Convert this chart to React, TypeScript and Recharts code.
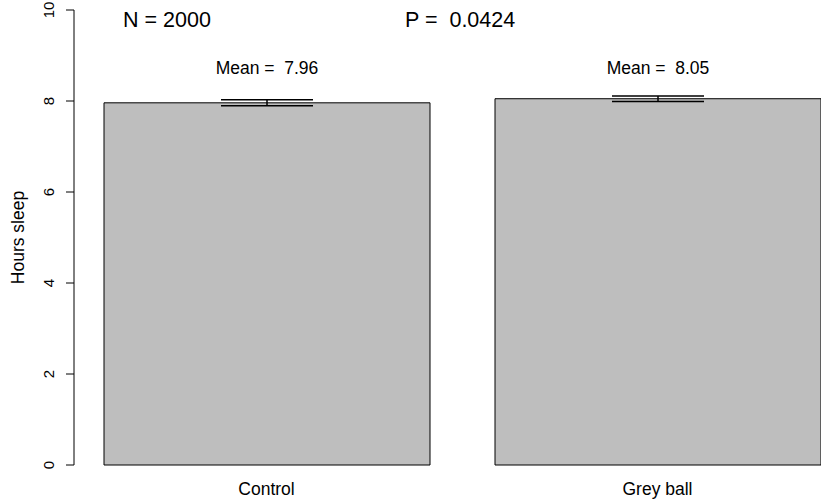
import React from "react";
import { BarChart, Bar, XAxis, YAxis, ErrorBar, LabelList } from "recharts";

const groups = ["Control", "Grey ball"];
const means = [7.96, 8.05];
const errs = [0.065, 0.062];
const yTicks = [0, 2, 4, 6, 8, 10];
const meanLabelAt = 8.73; // y (data units) of the "Mean =" texts
const nText = "N = 2000";
const pText = "P =  0.0424";

const data = groups.map((g, i) => ({ group: g, mean: means[i], err: errs[i] }));

const FONT = "'Liberation Sans', Arial, Helvetica, sans-serif";

const YTick = (props: any) => {
  const { x, y, payload } = props;
  const cx = x - 10;
  return (
    <text
      x={cx}
      y={y}
      transform={`rotate(-90, ${cx}, ${y})`}
      textAnchor="middle"
      dominantBaseline="central"
      fontSize={15}
      fontFamily={FONT}
      fill="#000"
    >
      {payload.value}
    </text>
  );
};

const MeanLabel = (props: any) => {
  const { x, y, width, height, value } = props;
  const ly = y + height - (height * meanLabelAt) / value;
  return (
    <text
      x={x + width / 2}
      y={ly}
      textAnchor="middle"
      dominantBaseline="central"
      fontSize={17.5}
      fontFamily={FONT}
      fill="#000"
      style={{ whiteSpace: "pre" }}
      xmlSpace="preserve"
    >
      {`Mean =  ${value.toFixed(2)}`}
    </text>
  );
};

export default function App() {
  return (
    <div style={{ position: "absolute", left: 0, top: 0, width: 821, height: 501, background: "#fff", overflow: "hidden" }}>
      <BarChart
        width={821}
        height={501}
        data={data}
        margin={{ top: 10, right: 0, bottom: 0, left: 0 }}
      >
        <XAxis
          dataKey="group"
          axisLine={false}
          tickLine={false}
          height={36}
          padding={{ left: -3, right: -32 }}
          tickMargin={12}
          tick={{ fill: "#000", fontSize: 17.5, fontFamily: FONT }}
        />
        <YAxis
          domain={[0, 10]}
          ticks={yTicks}
          width={74}
          tickSize={8}
          tickMargin={8}
          axisLine={{ stroke: "#000" }}
          tickLine={{ stroke: "#000" }}
          tick={YTick}
          label={{
            value: "Hours sleep",
            angle: -90,
            position: "center",
            dx: -19,
            fill: "#000",
            fontSize: 17.5,
            fontFamily: FONT,
          }}
        />
        <Bar
          dataKey="mean"
          fill="#bebebe"
          stroke="#000"
          strokeWidth={1}
          barSize={326}
          isAnimationActive={false}
        >
          <ErrorBar dataKey="err" width={46} stroke="#000" strokeWidth={1.5} direction="y" isAnimationActive={false} />
          <LabelList dataKey="mean" content={MeanLabel} />
        </Bar>
      </BarChart>
      <div style={{ position: "absolute", left: 123, top: 8, fontSize: 21.5, fontFamily: FONT, color: "#000", whiteSpace: "pre" }}>
        {nText}
      </div>
      <div style={{ position: "absolute", left: 405, top: 8, fontSize: 21.5, fontFamily: FONT, color: "#000", whiteSpace: "pre" }}>
        {pText}
      </div>
    </div>
  );
}
